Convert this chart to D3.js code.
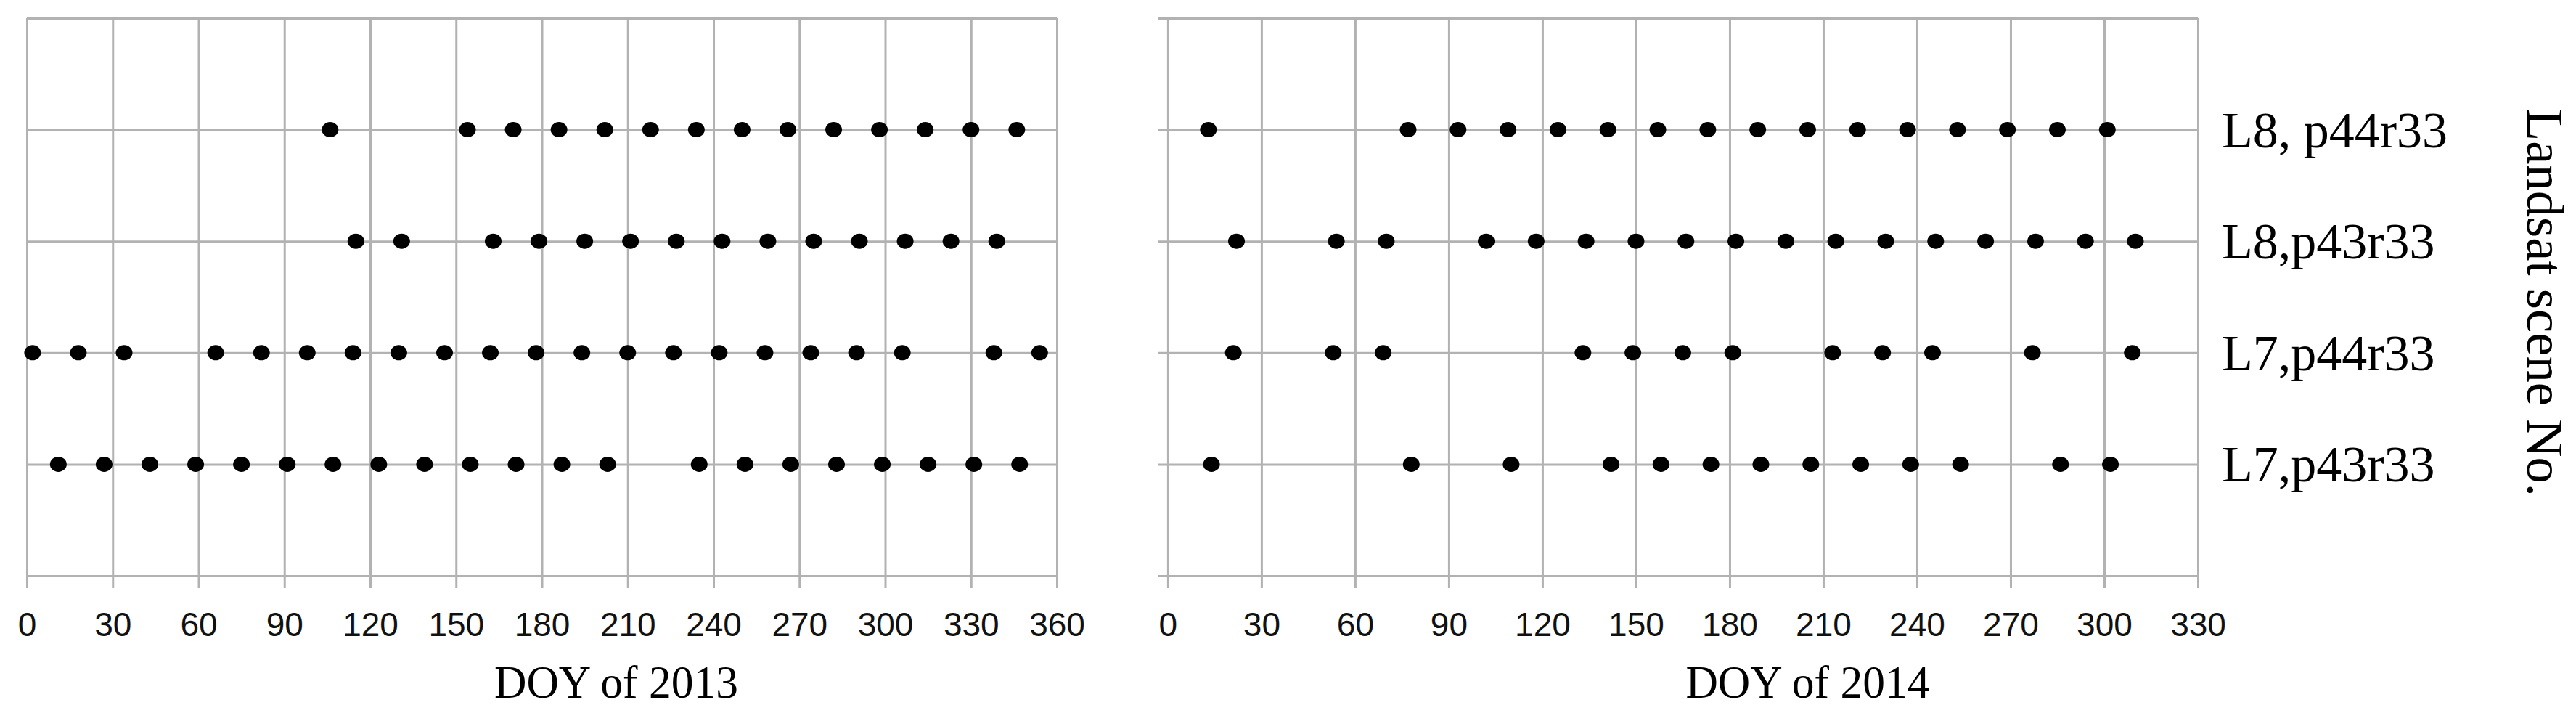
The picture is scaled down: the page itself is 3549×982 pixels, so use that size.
<!DOCTYPE html>
<html lang="en">
<head>
  <meta charset="UTF-8">
  <title>Landsat acquisition dates</title>
  <script src="https://d3js.org/d3.v7.min.js"></script>
  <style>
    body { margin: 0; background: #fff; }
    .grid line { stroke: #b2b2b2; stroke-width: 3; }
    .grid path { display: none; }
    .tick text { font-family: "Liberation Sans", Arial, sans-serif; font-size: 46px; fill: #111; }
    .title { font-family: "Liberation Serif", "Times New Roman", serif; fill: #000; }
  </style>
</head>
<body>
  <svg id="chart" width="3549" height="982"></svg>
  <script>
    // Scene rows, bottom to top
    const scenes = ["L7,p43r33", "L7,p44r33", "L8,p43r33", "L8, p44r33"];
    const rowTicks = [0, 1, 2, 3, 4, 5];

    const ticks2013 = [0, 30, 60, 90, 120, 150, 180, 210, 240, 270, 300, 330, 360];
    const ticks2014 = [0, 30, 60, 90, 120, 150, 180, 210, 240, 270, 300, 330];

    // DOY of each acquisition, 2013
    const l7p43_2013 = [11, 27, 43, 59, 75, 91, 107, 123, 139, 155, 171, 187, 203, 235, 251, 267, 283, 299, 315, 331, 347];
    const l7p44_2013 = [2, 18, 34, 66, 82, 98, 114, 130, 146, 162, 178, 194, 210, 226, 242, 258, 274, 290, 306, 338, 354];
    const l8p43_2013 = [115, 131, 163, 179, 195, 211, 227, 243, 259, 275, 291, 307, 323, 339];
    const l8p44_2013 = [106, 154, 170, 186, 202, 218, 234, 250, 266, 282, 298, 314, 330, 346];

    // DOY of each acquisition, 2014
    const l7p43_2014 = [14, 78, 110, 142, 158, 174, 190, 206, 222, 238, 254, 286, 302];
    const l7p44_2014 = [21, 53, 69, 133, 149, 165, 181, 213, 229, 245, 277, 309];
    const l8p43_2014 = [22, 54, 70, 102, 118, 134, 150, 166, 182, 198, 214, 230, 246, 262, 278, 294, 310];
    const l8p44_2014 = [13, 77, 93, 109, 125, 141, 157, 173, 189, 205, 221, 237, 253, 269, 285, 301];

    const series2013 = [l7p43_2013, l7p44_2013, l8p43_2013, l8p44_2013];
    const series2014 = [l7p43_2014, l7p44_2014, l8p43_2014, l8p44_2014];

    const svg = d3.select("#chart");
    svg.append("rect").attr("width", 3549).attr("height", 982).attr("fill", "#fff");

    const plotTop = 25, plotBottom = 793;
    const y = d3.scaleLinear().domain([0, 5]).range([plotBottom, plotTop]);

    function panel(xDomain, xRange, ticks, series, title, titleDay) {
      const x = d3.scaleLinear().domain(xDomain).range(xRange);
      const g = svg.append("g");

      // vertical gridlines, running on below the axis as tick marks
      g.append("g").attr("class", "grid")
        .attr("transform", `translate(0,${plotTop})`)
        .call(d3.axisBottom(x).tickValues(ticks).tickSize(plotBottom - plotTop + 17).tickFormat(""));

      // horizontal gridlines (rows)
      g.append("g").attr("class", "grid")
        .attr("transform", `translate(${x(xDomain[0])},0)`)
        .call(d3.axisLeft(y).tickValues(rowTicks).tickSize(-(x(xDomain[1]) - x(xDomain[0]))).tickFormat(""));

      // tick labels
      g.append("g")
        .attr("transform", `translate(0,${plotBottom})`)
        .call(d3.axisBottom(x).tickValues(ticks).tickSize(0).tickPadding(50))
        .call(a => a.select(".domain").remove());

      // acquisition dots
      series.forEach((days, i) => {
        g.selectAll(null)
          .data(days)
          .enter()
          .append("ellipse")
          .attr("cx", d => x(d))
          .attr("cy", y(i + 1))
          .attr("rx", 11.5)
          .attr("ry", 10.5)
          .attr("fill", "#000");
      });

      g.append("text").attr("class", "title")
        .attr("x", x(titleDay)).attr("y", 961)
        .attr("text-anchor", "middle")
        .attr("font-size", 63)
        .attr("textLength", 336).attr("lengthAdjust", "spacingAndGlyphs")
        .text(title);

      return x;
    }

    panel([0, 360], [37, 1456], ticks2013, series2013, "DOY of 2013", 206);
    const x2 = panel([-3, 330], [1596, 3028], ticks2014, series2014, "DOY of 2014", 205);

    // scene labels on the right
    svg.append("g").selectAll("text")
      .data(scenes)
      .enter()
      .append("text")
      .attr("class", "title")
      .attr("x", x2(330) + 33)
      .attr("y", (d, i) => y(i + 1) + 24)
      .attr("font-size", 70)
      .text(d => d);

    svg.append("text").attr("class", "title")
      .attr("transform", "translate(3482,417) rotate(90)")
      .attr("text-anchor", "middle")
      .attr("font-size", 72)
      .attr("textLength", 534).attr("lengthAdjust", "spacingAndGlyphs")
      .text("Landsat scene No.");
  </script>
</body>
</html>
